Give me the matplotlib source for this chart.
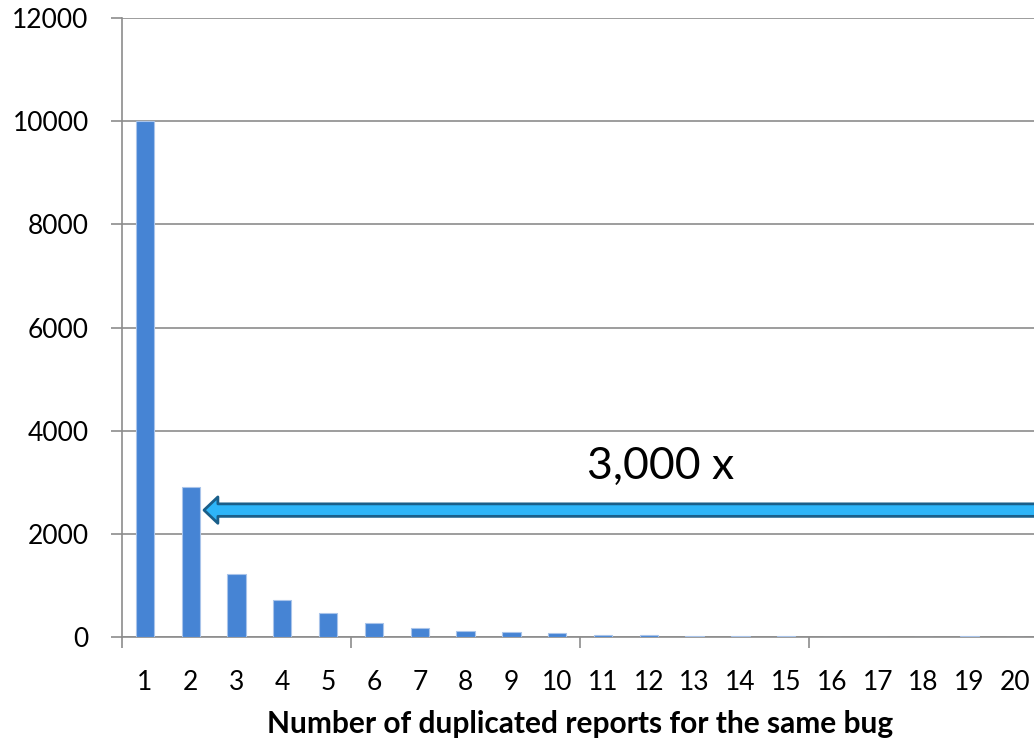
import matplotlib.pyplot as plt

plt.rcParams['font.family'] = ['Lato', 'DejaVu Sans']

categories = list(range(1, 21))
counts = [10000, 2900, 1220, 710, 460, 270, 180, 110, 97, 72,
          45, 33, 25, 13, 13, 5, 5, 5, 13, 3]
y_ticks = [0, 2000, 4000, 6000, 8000, 10000, 12000]
arrow_level = 2460
arrow_text = '3,000 x'
x_label = 'Number of duplicated reports for the same bug'

grey = '#8c8c8c'
bar_colour = '#4684d4'

fig = plt.figure(figsize=(10.34, 7.44), dpi=100)
ax = fig.add_axes([0.118, 0.1438, 0.886, 0.832])

ax.bar(categories, counts, width=0.4, color=bar_colour,
       edgecolor='#a9c4ea', linewidth=0.8, zorder=3)

ax.set_xlim(0.5, 20.5)
ax.set_ylim(0, 12000)
ax.set_yticks(y_ticks)
ax.set_yticklabels([str(v) for v in y_ticks], fontsize=19)
ax.yaxis.grid(True, color=grey, linewidth=1.2, zorder=0)

# labels at category centres, tick marks between every 5 categories
ax.set_xticks(categories)
ax.set_xticklabels([str(c) for c in categories], fontsize=19)
ax.tick_params(axis='x', which='major', length=0, pad=24)
ax.set_xticks([0.5, 5.5, 10.5, 15.5, 20.5], minor=True)
ax.tick_params(axis='x', which='minor', length=8, width=1.2, color=grey)
ax.tick_params(axis='y', length=8, width=1.2, color=grey, pad=16)

for side in ['top', 'right']:
    ax.spines[side].set_visible(False)
for side in ['left', 'bottom']:
    ax.spines[side].set_color(grey)
    ax.spines[side].set_linewidth(1.2)

ax.set_xlabel(x_label, fontsize=21.5, fontweight='bold')
ax.xaxis.set_label_coords(0.5, -0.118)

ax.annotate('', xy=(2.29, arrow_level), xytext=(21.5, arrow_level),
            annotation_clip=False,
            arrowprops=dict(arrowstyle='simple,head_length=10,head_width=19,tail_width=9',
                            mutation_scale=1, fc='#2eb5f8', ec='#1a5f8a', lw=2,
                            shrinkA=0, shrinkB=0),
            zorder=4)
ax.text(12.25, 3300, arrow_text, ha='center', va='center', fontsize=32)

fig.savefig('out.png', dpi=100)
